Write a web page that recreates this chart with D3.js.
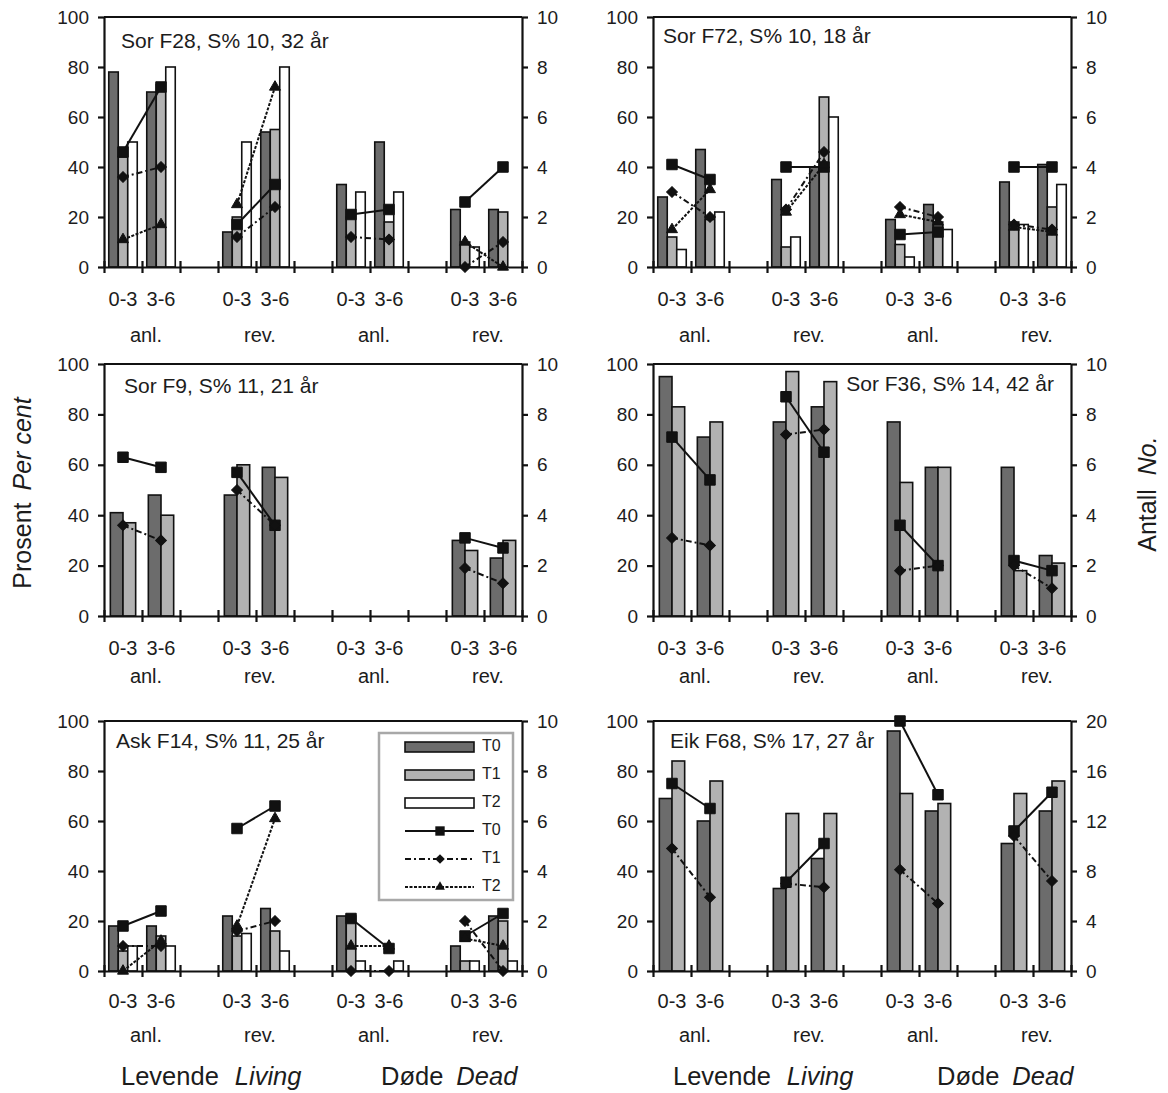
<!DOCTYPE html>
<html>
<head>
<meta charset="utf-8">
<script src="https://cdn.jsdelivr.net/npm/d3@7"></script>
<style>
  body { margin: 0; background: #fff; }
  svg { display: block; font-family: "Liberation Sans", Arial, sans-serif; }
</style>
</head>
<body>
<svg id="chart" width="1168" height="1093"></svg>
<script>
// ---- data ----
const ageClasses = ["0-3", "3-6"];
const groupLabels = ["anl.", "rev.", "anl.", "rev."];
const seriesNames = ["T0", "T1", "T2"];
const panelTitles = ["Sor F28, S% 10, 32 år", "Sor F72, S% 10, 18 år", "Sor F9, S% 11, 21 år",
                     "Sor F36, S% 14, 42 år", "Ask F14, S% 11, 25 år", "Eik F68, S% 17, 27 år"];
const leftTicks = [0, 20, 40, 60, 80, 100];
const rightTicksSmall = [0, 2, 4, 6, 8, 10];
const rightTicksLarge = [0, 4, 8, 12, 16, 20];

// bar values (per cent), order: anl 0-3, anl 3-6, rev 0-3, rev 3-6 (living), then the same for dead
const barT0 = [
  [78, 70, 14, 54, 33, 50, 23, 23],
  [28, 47, 35, 40, 19, 25, 34, 41],
  [41, 48, 48, 59, 0, 0, 30, 23],
  [95, 71, 77, 83, 77, 59, 59, 24],
  [18, 18, 22, 25, 22, 0, 10, 22],
  [69, 60, 33, 45, 96, 64, 51, 64]
];
const barT1 = [
  [44, 73, 20, 55, 20, 18, 10, 22],
  [12, 19, 8, 68, 9, 18, 18, 24],
  [37, 40, 60, 55, 0, 0, 26, 30],
  [83, 77, 97, 93, 53, 59, 18, 21],
  [8, 14, 14, 16, 22, 0, 4, 20],
  [84, 76, 63, 63, 71, 67, 71, 76]
];
const barT2 = [
  [50, 80, 50, 80, 30, 30, 8, 0],
  [7, 22, 12, 60, 4, 15, 17, 33],
  null,
  null,
  [10, 10, 15, 8, 4, 4, 4, 4],
  null
];
// line values (number, right axis)
const lineT0 = [
  [4.6, 7.2, 1.7, 3.3, 2.1, 2.3, 2.6, 4.0],
  [4.1, 3.5, 4.0, 4.0, 1.3, 1.4, 4.0, 4.0],
  [6.3, 5.9, 5.7, 3.6, null, null, 3.1, 2.7],
  [7.1, 5.4, 8.7, 6.5, 3.6, 2.0, 2.2, 1.8],
  [1.8, 2.4, 5.7, 6.6, 2.1, 0.9, 1.4, 2.3],
  [15.0, 13.0, 7.1, 10.2, 20.0, 14.1, 11.2, 14.3]
];
const lineT1 = [
  [3.6, 4.0, 1.2, 2.4, 1.2, 1.1, 0, 1.0],
  [3.0, 2.0, 2.3, 4.6, 2.4, 2.0, 1.7, 1.5],
  [3.6, 3.0, 5.0, 3.6, null, null, 1.9, 1.3],
  [3.1, 2.8, 7.2, 7.4, 1.8, 2.0, 2.0, 1.1],
  [1.0, 1.0, 1.6, 2.0, 0, 0, 2.0, 0],
  [9.8, 5.9, 7.0, 6.7, 8.1, 5.4, 10.8, 7.2]
];
const lineT2 = [
  [1.1, 1.7, 2.5, 7.2, null, null, 1.0, 0],
  [1.5, 3.1, 2.2, 4.1, 2.1, 1.8, 1.6, 1.4],
  null,
  null,
  [0, 1.2, 1.8, 6.1, 1.0, 1.0, 1.3, 1.0],
  null
];

// ---- layout ----
const cols = [{left: 104, right: 522, living: 121, dead: 381}, {left: 653, right: 1071, living: 673, dead: 937}];
const rows = [{top: 17, bottom: 267, lab1: 34, lab2: 70}, {top: 364, bottom: 616, lab1: 34, lab2: 62},
              {top: 721, bottom: 971, lab1: 32, lab2: 66}];
const titlePos = [
  {x: 121, y: 42, anchor: "start"}, {x: 663, y: 37, anchor: "start"},
  {x: 124, y: 387, anchor: "start"}, {x: 1054, y: 385, anchor: "end"},
  {x: 116, y: 742, anchor: "start"}, {x: 670, y: 742, anchor: "start"}
];
const ink = "#1c1c1c";
const barFill = {T0: "#6c6c6c", T1: "#b2b2b2", T2: "#ffffff"};
const lineDash = {T0: null, T1: "6,3,2,3", T2: "3,1.5"};
// T1 diamond = square turned 45 degrees, like the spreadsheet marker
const markers = {T0: d3.symbolSquare, T1: d3.symbolSquare, T2: d3.symbolTriangle};
const markerSize = {T0: 110, T1: 58, T2: 52};
const markerTurn = {T0: 0, T1: 45, T2: 0};

const svg = d3.select("#chart");

// 11 slots: 4 groups of 2 age classes, with an empty slot between groups
const slots = [];
groupLabels.forEach((g, gi) => {
  ageClasses.forEach((a, ai) => slots.push("g" + gi + "a" + ai));
  if (gi < groupLabels.length - 1) slots.push("gap" + gi);
});
const slotOf = i => "g" + Math.floor(i / 2) + "a" + (i % 2);

panelTitles.forEach((title, p) => {
  const c = cols[p % 2], r = rows[Math.floor(p / 2)];
  const g = svg.append("g");
  const rightMax = p === 5 ? 20 : 10;
  const rightTicks = p === 5 ? rightTicksLarge : rightTicksSmall;

  const x = d3.scaleBand().domain(slots).range([c.left, c.right]).padding(0);
  const xb = d3.scaleLinear().domain([0, slots.length]).range([c.left, c.right]);
  const y = d3.scaleLinear().domain([0, 100]).range([r.bottom, r.top]);
  const y2 = d3.scaleLinear().domain([0, rightMax]).range([r.bottom, r.top]);

  const barSets = [barT0[p], barT1[p], barT2[p]];
  const activeSeries = seriesNames.filter((s, si) => barSets[si]);
  const xs = d3.scaleBand().domain(activeSeries).range([0, x.bandwidth()])
    .paddingInner(0).paddingOuter(0.5);

  // bars
  activeSeries.forEach(s => {
    const vals = barSets[seriesNames.indexOf(s)];
    g.append("g").selectAll("rect")
      .data(vals.map((v, i) => ({v, i})).filter(d => d.v > 0))
      .join("rect")
      .attr("x", d => x(slotOf(d.i)) + xs(s))
      .attr("y", d => y(d.v))
      .attr("width", xs.bandwidth())
      .attr("height", d => y(0) - y(d.v))
      .attr("fill", barFill[s])
      .attr("stroke", "#111")
      .attr("stroke-width", 1.6);
  });

  // lines with markers, each group joins 0-3 with 3-6
  const lineSets = [lineT0[p], lineT1[p], lineT2[p]];
  const cx = i => x(slotOf(i)) + x.bandwidth() / 2;
  seriesNames.forEach((s, si) => {
    const vals = lineSets[si];
    if (!vals) return;
    const lg = g.append("g");
    const line = d3.line().x(d => cx(d.i)).y(d => y2(d.v));
    for (let k = 0; k < vals.length; k += 2) {
      const pts = [{i: k, v: vals[k]}, {i: k + 1, v: vals[k + 1]}].filter(d => d.v != null);
      if (pts.length === 2) {
        lg.append("path").attr("d", line(pts))
          .attr("fill", "none").attr("stroke", "#111").attr("stroke-width", 2)
          .attr("stroke-dasharray", lineDash[s]);
      }
    }
    lg.selectAll("path.mk")
      .data(vals.map((v, i) => ({v, i})).filter(d => d.v != null))
      .join("path").attr("class", "mk")
      .attr("transform", d => `translate(${cx(d.i)},${y2(d.v)}) rotate(${markerTurn[s]})`)
      .attr("d", d3.symbol().type(markers[s]).size(markerSize[s]))
      .attr("fill", "#111").attr("stroke", "#111").attr("stroke-width", 1);
  });

  // frame
  g.append("line").attr("x1", c.left).attr("x2", c.right).attr("y1", r.top).attr("y2", r.top)
    .attr("stroke", "#111").attr("stroke-width", 2.2);

  // axes
  const axL = g.append("g").attr("transform", `translate(${c.left},0)`)
    .call(d3.axisLeft(y).tickValues(leftTicks).tickSizeOuter(0).tickSizeInner(6).tickPadding(9));
  const axR = g.append("g").attr("transform", `translate(${c.right},0)`)
    .call(d3.axisRight(y2).tickValues(rightTicks).tickSizeOuter(0).tickSizeInner(6).tickPadding(9));
  const axB = g.append("g").attr("transform", `translate(0,${r.bottom})`)
    .call(d3.axisBottom(xb).tickValues(d3.range(slots.length + 1)).tickFormat("").tickSizeOuter(0).tickSizeInner(6));
  axB.selectAll(".tick line").attr("y1", -6);
  [axL, axR, axB].forEach(a => {
    a.select(".domain").attr("stroke", "#111").attr("stroke-width", 2.2);
    a.selectAll(".tick line").attr("stroke", "#111").attr("stroke-width", 2.2);
    a.selectAll("text").attr("font-size", 19).attr("fill", ink)
      .attr("font-family", "Liberation Sans, Arial, sans-serif");
  });

  // category labels
  g.selectAll("text.age")
    .data(d3.range(8))
    .join("text").attr("class", "age")
    .attr("x", i => cx(i))
    .attr("y", r.bottom + r.lab1)
    .attr("text-anchor", "middle").attr("dominant-baseline", "middle")
    .attr("font-size", 20).attr("fill", ink)
    .text(i => ageClasses[i % 2]);
  g.selectAll("text.grp")
    .data(groupLabels)
    .join("text").attr("class", "grp")
    .attr("x", (d, gi) => (cx(gi * 2) + cx(gi * 2 + 1)) / 2 + 4)
    .attr("y", r.bottom + r.lab2)
    .attr("text-anchor", "middle").attr("dominant-baseline", "middle")
    .attr("font-size", 20).attr("fill", ink)
    .text(d => d);

  // panel title
  const tp = titlePos[p];
  g.append("text").attr("x", tp.x).attr("y", tp.y)
    .attr("text-anchor", tp.anchor).attr("dominant-baseline", "middle")
    .attr("font-size", 21).attr("fill", ink)
    .text(title);

  // bottom row: living / dead captions
  if (Math.floor(p / 2) === 2) {
    const capY = 1078;
    const living = g.append("text").attr("x", c.living).attr("y", capY)
      .attr("dominant-baseline", "middle").attr("font-size", 25.5).attr("fill", ink);
    living.append("tspan").text("Levende");
    living.append("tspan").attr("dx", 16).attr("font-style", "italic").text("Living");
    const dead = g.append("text").attr("x", c.dead).attr("y", capY)
      .attr("dominant-baseline", "middle").attr("font-size", 25.5).attr("fill", ink);
    dead.append("tspan").text("Døde");
    dead.append("tspan").attr("dx", 13).attr("font-style", "italic").text("Dead");
  }

  // legend in the Ask panel
  if (p === 4) {
    const lx = 379, ly = 733, lw = 134, lh = 167;
    const leg = g.append("g");
    leg.append("rect").attr("x", lx).attr("y", ly).attr("width", lw).attr("height", lh)
      .attr("fill", "#fff").attr("stroke", "#a8a8a8").attr("stroke-width", 2.5);
    const rowY = d3.scalePoint().domain(d3.range(6)).range([ly + 14, ly + 154]);
    seriesNames.forEach((s, si) => {
      leg.append("rect").attr("x", lx + 26).attr("y", rowY(si) - 5).attr("width", 69).attr("height", 10)
        .attr("fill", barFill[s]).attr("stroke", "#111").attr("stroke-width", 1.6);
      leg.append("text").attr("x", lx + 103).attr("y", rowY(si)).attr("dominant-baseline", "middle")
        .attr("font-size", 16).attr("fill", ink).text(s);
      const ry = rowY(si + 3);
      leg.append("line").attr("x1", lx + 26).attr("x2", lx + 95).attr("y1", ry).attr("y2", ry)
        .attr("stroke", "#111").attr("stroke-width", 2).attr("stroke-dasharray", lineDash[s]);
      leg.append("path").attr("transform", `translate(${lx + 61},${ry}) rotate(${markerTurn[s]})`)
        .attr("d", d3.symbol().type(markers[s]).size(markerSize[s] * 0.8)).attr("fill", "#111");
      leg.append("text").attr("x", lx + 103).attr("y", ry).attr("dominant-baseline", "middle")
        .attr("font-size", 16).attr("fill", ink).text(s);
    });
  }
});

// axis titles
const yTitle = svg.append("text")
  .attr("transform", "translate(24,493) rotate(-90)")
  .attr("text-anchor", "middle").attr("dominant-baseline", "middle")
  .attr("font-size", 25).attr("fill", ink);
yTitle.append("tspan").text("Prosent");
yTitle.append("tspan").attr("dx", 12).attr("font-style", "italic").text("Per cent");

const y2Title = svg.append("text")
  .attr("transform", "translate(1149,494) rotate(-90)")
  .attr("text-anchor", "middle").attr("dominant-baseline", "middle")
  .attr("font-size", 25).attr("fill", ink);
y2Title.append("tspan").text("Antall");
y2Title.append("tspan").attr("dx", 14).attr("font-style", "italic").text("No.");
</script>
</body>
</html>
